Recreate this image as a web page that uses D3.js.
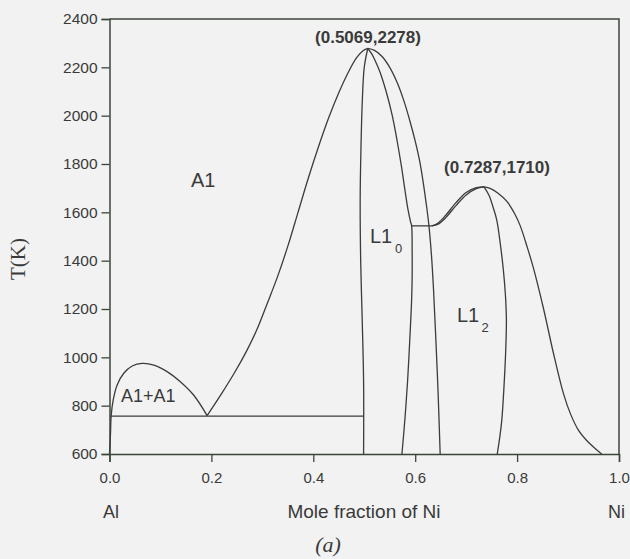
<!DOCTYPE html>
<html><head><meta charset="utf-8">
<script src="https://cdn.jsdelivr.net/npm/d3@7"></script>
<style>
html,body{margin:0;padding:0;background:#f1f2f1;}
svg{display:block;font-family:"Liberation Sans",Arial,sans-serif;}
</style></head>
<body><svg id="c" width="630" height="559"></svg>
<script>
// ---- data (x = mole fraction Ni, T in K) ----
const xTicks = [0.0, 0.2, 0.4, 0.6, 0.8, 1.0];
const xTickLabels = ["0.0", "0.2", "0.4", "0.6", "0.8", "1.0"];
const yTicks = [600, 800, 1000, 1200, 1400, 1600, 1800, 2000, 2200, 2400];
const yTickLabels = ["600", "800", "1000", "1200", "1400", "1600", "1800", "2000", "2200", "2400"];

// A1 + A1 miscibility gap (Al side)
const gapA1 = [[0,600],[0.002,686],[0.0033,759],[0.0073,824],[0.015,886],[0.028,934],[0.0445,964],[0.064,975],[0.087,968],[0.113,941],[0.139,899],[0.165,844],[0.1916,759]];
// eutectoid line
const eutectoid = [[0.002,757],[0.4987,757]];
// A1 / L1_0 boundary, left side
const domeLeft = [[0.1916,759],[0.22,850],[0.245,935],[0.27,1030],[0.29,1118],[0.31,1225],[0.33,1335],[0.35,1460],[0.37,1600],[0.39,1740],[0.41,1870],[0.43,1990],[0.45,2095],[0.47,2185],[0.485,2240],[0.497,2268],[0.5069,2278]];
// L1_0 left boundary
const l10Left = [[0.5069,2278],[0.500,2200],[0.496,2050],[0.4935,1859],[0.492,1652],[0.493,1400],[0.496,1155],[0.4987,900],[0.4987,600]];
// L1_0 right boundary
const l10Right = [[0.5069,2278],[0.515,2255],[0.523,2220],[0.531,2180],[0.543,2100],[0.555,2000],[0.565,1890],[0.573,1790],[0.580,1690],[0.586,1610],[0.591,1560],[0.593,1544],[0.594,1440],[0.594,1330],[0.593,1238],[0.590,1100],[0.585,900],[0.580,750],[0.574,600]];
// A1 / L1_0 boundary, right side
const domeRight = [[0.5069,2278],[0.52,2270],[0.535,2245],[0.55,2200],[0.565,2135],[0.578,2060],[0.59,1975],[0.60,1895],[0.609,1810],[0.616,1720],[0.622,1630],[0.627,1544],[0.632,1420],[0.636,1280],[0.640,1100],[0.645,850],[0.649,600]];
// peritectoid line
const plateau = [[0.593,1544],[0.633,1544]];
// L1_2 upper boundaries (two close curves)
const l12TopA = [[0.633,1544],[0.645,1551],[0.66,1578],[0.68,1628],[0.70,1672],[0.72,1698],[0.735,1705]];
const l12TopB = [[0.633,1544],[0.645,1556],[0.66,1588],[0.68,1640],[0.70,1682],[0.72,1702],[0.735,1705]];
// L1_2 inner boundary going down
const l12Inner = [[0.735,1705],[0.745,1670],[0.753,1620],[0.760,1569],[0.767,1470],[0.773,1362],[0.777,1260],[0.779,1155],[0.778,1050],[0.776,948],[0.770,741],[0.766,670],[0.761,600]];
// L1_2 / A1 outer boundary (Ni side)
const l12Outer = [[0.735,1705],[0.748,1698],[0.762,1680],[0.780,1645],[0.795,1595],[0.806,1545],[0.820,1455],[0.832,1370],[0.852,1200],[0.871,1020],[0.891,850],[0.905,765],[0.920,700],[0.937,655],[0.952,625],[0.966,600]];

const curves = [gapA1, eutectoid, domeLeft, l10Left, l10Right, domeRight, plateau, l12TopA, l12TopB, l12Inner, l12Outer];

// ---- chart ----
const svg = d3.select("#c");
const x = d3.scaleLinear().domain([0, 1]).range([109.5, 619]);
const y = d3.scaleLinear().domain([600, 2400]).range([454, 19]);
const axisColor = "#3b463b";
const lineColor = "#3a3d3a";
const textColor = "#3a3a3a";

// frame (top and right)
svg.append("path")
  .attr("d", `M${x(0)},${y(2400)}H${x(1)}V${y(600)}`)
  .attr("fill", "none").attr("stroke", axisColor).attr("stroke-width", 1.5);

// x axis
const xMinor = d3.range(0, 1.0001, 0.1);
const gx = svg.append("g").attr("transform", `translate(0,${y(600)})`);
gx.call(d3.axisBottom(x).tickValues(xMinor).tickSize(4).tickFormat(""));
gx.call(d3.axisBottom(x).tickValues(xTicks).tickSize(8).tickFormat((d, i) => xTickLabels[i]).tickPadding(10));
gx.selectAll(".domain").attr("stroke", axisColor).attr("stroke-width", 1.5);
gx.selectAll("line").attr("stroke", axisColor).attr("stroke-width", 1.3);
gx.selectAll("text").attr("font-size", 15).attr("fill", textColor).attr("font-family", "Liberation Sans, Arial, sans-serif");

// y axis
const yMinor = d3.range(600, 2401, 100);
const gy = svg.append("g").attr("transform", `translate(${x(0)},0)`);
gy.call(d3.axisLeft(y).tickValues(yMinor).tickSize(4).tickFormat(""));
gy.call(d3.axisLeft(y).tickValues(yTicks).tickSize(8).tickFormat((d, i) => yTickLabels[i]).tickPadding(4));
gy.selectAll(".domain").attr("stroke", axisColor).attr("stroke-width", 1.5);
gy.selectAll("line").attr("stroke", axisColor).attr("stroke-width", 1.3);
gy.selectAll("text").attr("font-size", 15.5).attr("fill", textColor).attr("font-family", "Liberation Sans, Arial, sans-serif");

// curves
const lineX = d3.line().x(d => x(d[0])).y(d => y(d[1])).curve(d3.curveCatmullRom.alpha(0.5));
const g = svg.append("g").attr("fill", "none").attr("stroke", lineColor).attr("stroke-width", 1.3);
curves.forEach(c => g.append("path").attr("d", lineX(c)));

// labels
function label(txt, px, py, size, opts = {}) {
  return svg.append("text").attr("x", px).attr("y", py).attr("font-size", size)
    .attr("fill", textColor).attr("text-anchor", opts.anchor || "start")
    .attr("font-weight", opts.weight || "normal")
    .attr("font-family", opts.family || "Liberation Sans, Arial, sans-serif")
    .attr("font-style", opts.style || "normal")
    .text(txt);
}
label("A1", 191, 187, 20);
label("A1+A1", 121, 402, 18);
label("L1", 370, 243, 20);
label("0", 395, 252.5, 13);
label("L1", 457, 321.5, 20);
label("2", 481.5, 332, 13);
label("(0.5069,2278)", 368, 43, 17, {anchor: "middle", weight: "bold"});
label("(0.7287,1710)", 497, 173, 17, {anchor: "middle", weight: "bold"});

label("Al", 103, 518, 18);
label("Mole fraction of Ni", 364, 518, 19, {anchor: "middle"});
label("Ni", 608, 518, 18);
label("(a)", 328, 552, 22, {anchor: "middle", style: "italic", family: "Liberation Serif, Times New Roman, serif"});

svg.append("text").attr("transform", "translate(25,259) rotate(-90)")
  .attr("text-anchor", "middle").attr("font-size", 21).attr("fill", textColor)
  .attr("font-family", "Liberation Serif, Times New Roman, serif").text("T(K)");
</script></body></html>
